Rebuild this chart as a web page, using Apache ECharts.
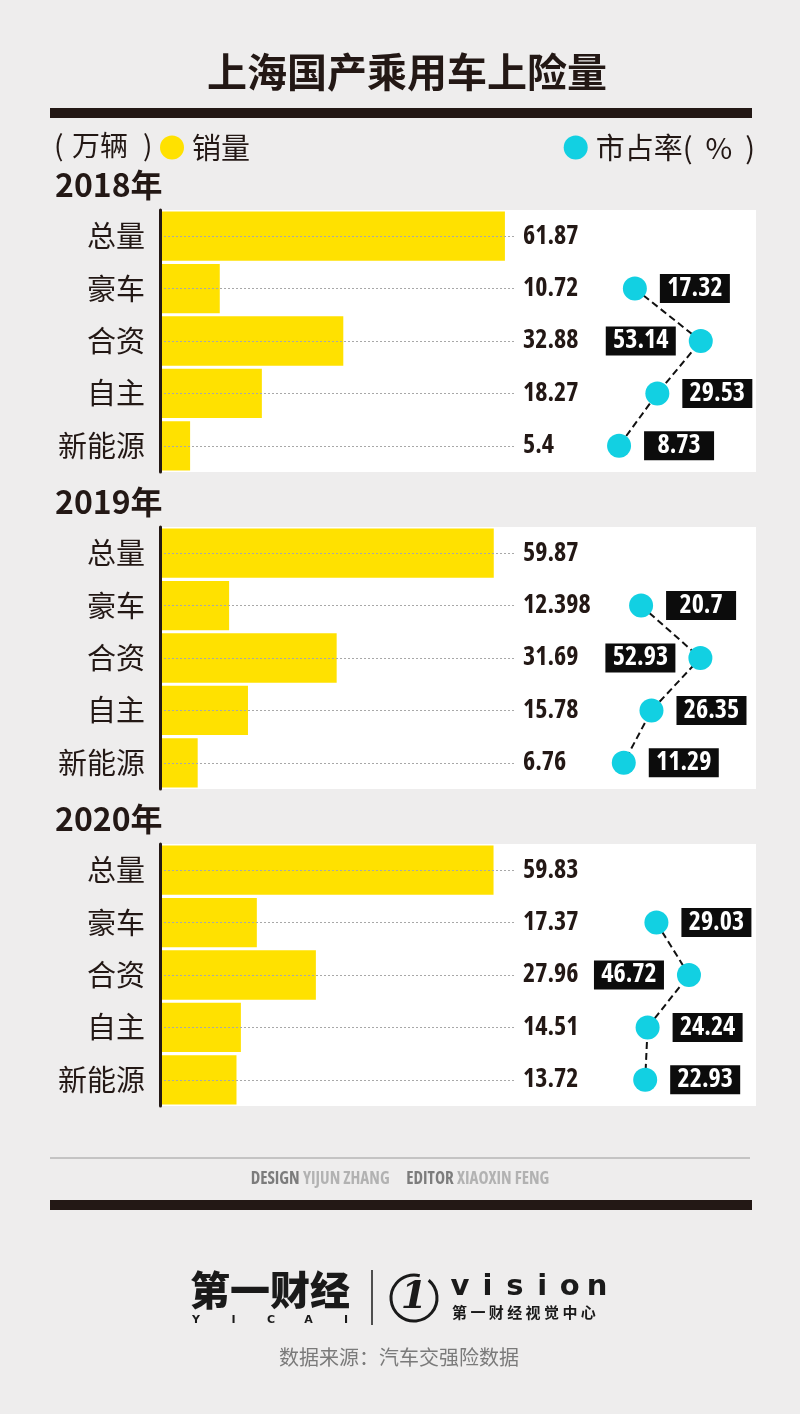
<!DOCTYPE html>
<html>
<head>
<meta charset="utf-8">
<script src="https://cdn.jsdelivr.net/npm/echarts/dist/echarts.min.js"></script>
<style>
  html, body { margin: 0; padding: 0; background: #eeeded; }
  #chart { width: 800px; height: 1414px; }
</style>
</head>
<body>
<div id="chart"></div>
<script>
// ---- data ----
const categories = ['总量', '豪车', '合资', '自主', '新能源'];
const shareCategories = ['豪车', '合资', '自主', '新能源'];
const years = ['2018年', '2019年', '2020年'];
const sales2018 = [61.87, 10.72, 32.88, 18.27, 5.4];
const sales2019 = [59.87, 12.398, 31.69, 15.78, 6.76];
const sales2020 = [59.83, 17.37, 27.96, 14.51, 13.72];
const share2018 = [17.32, 53.14, 29.53, 8.73];
const share2019 = [20.7, 52.93, 26.35, 11.29];
const share2020 = [29.03, 46.72, 24.24, 22.93];

const salesByYear = [sales2018, sales2019, sales2020];
const shareByYear = [share2018, share2019, share2020];

// ---- style constants ----
const INK = '#231815';
const YELLOW = '#ffe100';
const CYAN = '#12d0e2';
const CJK = '"Noto Sans CJK SC", "Noto Sans", sans-serif';
const NARROW = '"Open Sans", "Roboto", sans-serif';
const NARROW_W = 'bold condensed';
const panelTops = [210, 527, 844];
const PANEL_H = 262;
const BAR_LEFT = 160, BAR_MAX = 63.5, BAR_W = 354;
const DOT_LEFT = 603, DOT_MAX = 60, DOT_W = 110.4;

const grid = [], xAxis = [], yAxis = [], series = [], graphic = [];

panelTops.forEach((top, i) => {
  const sales = salesByYear[i];
  const share = shareByYear[i];
  graphic.push({ type: 'rect', z: -10, shape: { x: 160, y: top, width: 596, height: PANEL_H }, style: { fill: '#ffffff' } });
  graphic.push({ type: 'text', left: 55, top: top - 41, style: { text: years[i], fontSize: 32, fontWeight: 'bold', fontFamily: CJK, fill: INK } });

  const gb = grid.length;
  grid.push({ left: BAR_LEFT, top: top, width: BAR_W, height: PANEL_H, containLabel: false, outerBoundsMode: 'none' });
  xAxis.push({ type: 'value', gridIndex: gb, min: 0, max: BAR_MAX, show: false });
  const yLeft = yAxis.length;
  yAxis.push({
    type: 'category', gridIndex: gb, data: categories, inverse: true, z: 5,
    axisLine: { show: true, lineStyle: { color: INK, width: 3 } },
    axisTick: { show: false }, splitLine: { show: false },
    axisLabel: { margin: 15, fontSize: 29, fontFamily: CJK, color: INK, interval: 0 }
  });
  yAxis.push({
    type: 'category', gridIndex: gb, data: categories, inverse: true, position: 'right',
    axisLine: { show: false }, axisTick: { show: false }, splitLine: { show: false },
    axisLabel: {
      margin: 9, fontSize: 26, fontWeight: NARROW_W, fontFamily: NARROW, color: INK, interval: 0,
      formatter: (v, idx) => String(sales[idx])
    }
  });
  series.push({
    type: 'bar', name: '销量', xAxisIndex: xAxis.length - 1, yAxisIndex: yLeft,
    data: sales, barCategoryGap: '6%', itemStyle: { color: YELLOW },
    markLine: {
      silent: true, symbol: ['none', 'none'], label: { show: false },
      lineStyle: { type: [2, 2], color: '#a8a8a8', width: 1 },
      data: categories.map(c => [{ coord: [0, c] }, { coord: [BAR_MAX, c] }])
    }
  });

  const gd = grid.length;
  grid.push({ left: DOT_LEFT, top: top, width: DOT_W, height: PANEL_H, containLabel: false, outerBoundsMode: 'none' });
  xAxis.push({ type: 'value', gridIndex: gd, min: 0, max: DOT_MAX, show: false });
  yAxis.push({ type: 'category', gridIndex: gd, data: categories, inverse: true, show: false });
  const maxShare = Math.max(...share);
  series.push({
    type: 'line', name: '市占率(  %  )', xAxisIndex: xAxis.length - 1, yAxisIndex: yAxis.length - 1,
    symbol: 'circle', symbolSize: 24, z: 4,
    itemStyle: { color: CYAN, borderWidth: 0 },
    lineStyle: { color: '#111', width: 2, type: [7, 4] },
    label: {
      show: true, position: 'right', distance: 13,
      formatter: p => '{b|' + p.value[0] + '}',
      rich: { b: { width: 70, height: 29, lineHeight: 29, align: 'center', backgroundColor: '#0c0c0c',
        color: '#ffffff', fontSize: 26, fontWeight: NARROW_W, fontFamily: NARROW } }
    },
    data: share.map((v, k) => ({ value: [v, shareCategories[k]], label: { position: v === maxShare ? 'left' : 'right' } }))
  });
});

const midText = (text, x, y, extra) => ({ type: 'text', style: Object.assign({ text: text, x: x, y: y, textVerticalAlign: 'middle', verticalAlign: 'middle' }, extra) });

graphic.push(
  midText('上海国产乘用车上险量', 407, 72, { textAlign: 'center', align: 'center', fontSize: 40, fontWeight: 'bold', fontFamily: CJK, fill: INK }),
  { type: 'rect', shape: { x: 50, y: 108, width: 702, height: 10 }, style: { fill: INK } },
  midText('(', 54, 145, { fontSize: 28, fontFamily: CJK, fill: INK }),
  midText('万辆', 72, 145, { fontSize: 28, fontFamily: CJK, fill: INK }),
  midText(')', 143, 145, { fontSize: 28, fontFamily: CJK, fill: INK }),
  { type: 'line', shape: { x1: 50, y1: 1158, x2: 750, y2: 1158 }, style: { stroke: '#9a9a9a', lineWidth: 1 } },
  { type: 'text', style: {
      text: '{a|DESIGN} {b|YIJUN ZHANG}     {a|EDITOR} {b|XIAOXIN FENG}', x: 400, y: 1179,
      textAlign: 'center', align: 'center', textVerticalAlign: 'middle', verticalAlign: 'middle',
      rich: { a: { fontSize: 17, fontWeight: NARROW_W, fontFamily: NARROW, fill: '#7c7c7c' },
              b: { fontSize: 17, fontWeight: NARROW_W, fontFamily: NARROW, fill: '#b2b2b2' } } } },
  { type: 'rect', shape: { x: 50, y: 1200, width: 702, height: 10 }, style: { fill: INK } },
  midText('第一财经', 190, 1290, { fontSize: 40, fontWeight: 900, fontFamily: CJK, fill: '#1a1a1a' }),
  { type: 'line', shape: { x1: 372, y1: 1270, x2: 372, y2: 1325 }, style: { stroke: '#1a1a1a', lineWidth: 1.5 } },
  { type: 'arc', shape: { cx: 414, cy: 1298, r: 23, startAngle: -0.28 * Math.PI, endAngle: 1.58 * Math.PI }, style: { stroke: '#1a1a1a', lineWidth: 3, fill: null } },
  midText('1', 414, 1298, { textAlign: 'center', align: 'center', fontSize: 38, fontWeight: 'bold', fontStyle: 'italic', fontFamily: '"DejaVu Serif", serif', fill: '#1a1a1a' }),
  midText('第 一 财 经 视 觉 中 心', 452, 1312, { fontSize: 15, fontWeight: 'bold', fontFamily: CJK, fill: '#1a1a1a' }),
  midText('数据来源：汽车交强险数据', 399, 1357, { textAlign: 'center', align: 'center', fontSize: 20, fontFamily: CJK, fill: '#7a7a7a' })
);
['Y', 'I', 'C', 'A', 'I'].forEach((ch, k) => {
  graphic.push(midText(ch, 196 + k * 37.5, 1320, { textAlign: 'center', align: 'center', fontSize: 11, fontWeight: 'bold', fontFamily: '"DejaVu Sans", sans-serif', fill: '#1a1a1a' }));
});
['v', 'i', 's', 'i', 'o', 'n'].forEach((ch, k) => {
  graphic.push(midText(ch, 460 + k * 27.4, 1287, { textAlign: 'center', align: 'center', fontSize: 29, fontWeight: 'bold', fontFamily: '"DejaVu Sans", sans-serif', fill: '#1a1a1a' }));
});

const chart = echarts.init(document.getElementById('chart'), null, { renderer: 'canvas' });
chart.setOption({
  backgroundColor: '#eeeded',
  animation: false,
  legend: [
    { left: 160, top: 133, padding: 0, icon: 'circle', itemWidth: 24, itemHeight: 24, selectedMode: false,
      data: ['销量'], itemStyle: { color: YELLOW, borderWidth: 0 },
      textStyle: { fontSize: 29, fontFamily: CJK, color: INK, padding: [0, 0, 0, 3] } },
    { right: 45, top: 133, padding: 0, icon: 'circle', itemWidth: 24, itemHeight: 24, selectedMode: false,
      data: ['市占率(  %  )'], itemStyle: { color: CYAN, borderWidth: 0 },
      textStyle: { fontSize: 29, fontFamily: CJK, color: INK, padding: [0, 0, 0, 3] } }
  ],
  grid: grid,
  xAxis: xAxis,
  yAxis: yAxis,
  series: series,
  graphic: graphic
});
</script>
</body>
</html>
